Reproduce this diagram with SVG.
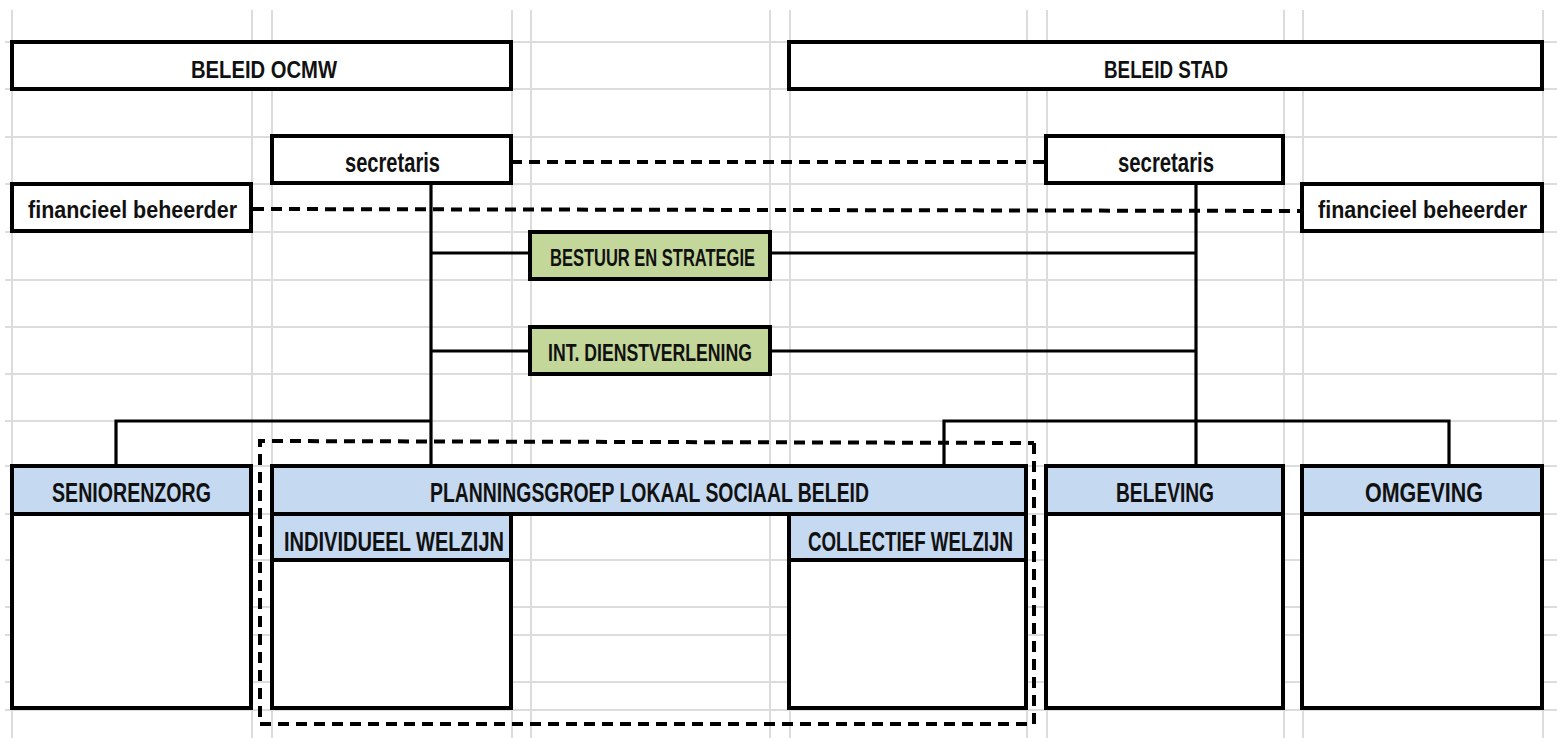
<svg xmlns="http://www.w3.org/2000/svg" width="1557" height="738" viewBox="0 0 1557 738">
<style>
.grid line{stroke:#dcdcdc;stroke-width:2}
.box{fill:#ffffff;stroke:#000;stroke-width:4}
.hdr{fill:#c5d9f1;stroke:#000;stroke-width:4}
.grn{fill:#c4d79b;stroke:#000;stroke-width:4}
text{font-family:"Liberation Sans Narrow","Liberation Sans",Arial,sans-serif;font-weight:bold;fill:#111;text-anchor:start}
.solid{fill:none;stroke:#000;stroke-width:3.2}
.dash{fill:none;stroke:#000;stroke-width:4;stroke-dasharray:11 7}
</style>
<rect x="0" y="0" width="1557" height="738" fill="#ffffff"/>
<g class="grid">
<line x1="12" y1="10" x2="12" y2="738"/>
<line x1="252" y1="10" x2="252" y2="738"/>
<line x1="272" y1="10" x2="272" y2="738"/>
<line x1="512" y1="10" x2="512" y2="738"/>
<line x1="531" y1="10" x2="531" y2="738"/>
<line x1="770" y1="10" x2="770" y2="738"/>
<line x1="790" y1="10" x2="790" y2="738"/>
<line x1="1027" y1="10" x2="1027" y2="738"/>
<line x1="1047" y1="10" x2="1047" y2="738"/>
<line x1="1284" y1="10" x2="1284" y2="738"/>
<line x1="1303" y1="10" x2="1303" y2="738"/>
<line x1="1543" y1="10" x2="1543" y2="738"/>
<line x1="5" y1="42" x2="1557" y2="42"/>
<line x1="5" y1="89" x2="1557" y2="89"/>
<line x1="5" y1="137" x2="1557" y2="137"/>
<line x1="5" y1="184" x2="1557" y2="184"/>
<line x1="5" y1="232" x2="1557" y2="232"/>
<line x1="5" y1="280" x2="1557" y2="280"/>
<line x1="5" y1="327" x2="1557" y2="327"/>
<line x1="5" y1="374" x2="1557" y2="374"/>
<line x1="5" y1="421" x2="1557" y2="421"/>
<line x1="5" y1="466" x2="1557" y2="466"/>
<line x1="5" y1="514" x2="1557" y2="514"/>
<line x1="5" y1="560" x2="1557" y2="560"/>
<line x1="5" y1="607" x2="1557" y2="607"/>
<line x1="5" y1="635" x2="1557" y2="635"/>
<line x1="5" y1="682" x2="1557" y2="682"/>
<line x1="5" y1="710" x2="1557" y2="710"/>
</g>
<g id="connectors">
<path class="dash" d="M511 162 L1046 162"/>
<path class="dash" d="M253 209 L1302 211"/>
<path class="solid" d="M431 184 L431 466"/>
<path class="solid" d="M1196 184 L1196 466"/>
<path class="solid" d="M431 253 L530 253 M770 253 L1196 253"/>
<path class="solid" d="M431 351 L530 351 M770 351 L1196 351"/>
<path class="solid" d="M116 466 L116 421 L431 421"/>
<path class="solid" d="M944 466 L944 421 L1449 421 L1449 466"/>
<path class="dash" d="M1034 443 L1034 724 L260 724 L260 441 L1034 443"/>
</g>
<g id="beleid-ocmw"><rect class="box" x="12" y="42" width="499" height="47"/><text x="191" y="78" font-size="24" textLength="146" lengthAdjust="spacingAndGlyphs">BELEID OCMW</text></g>
<g id="beleid-stad"><rect class="box" x="789" y="42" width="753" height="47"/><text x="1104" y="78" font-size="24" textLength="124" lengthAdjust="spacingAndGlyphs">BELEID STAD</text></g>
<g id="secretaris-ocmw"><rect class="box" x="272" y="136" width="239" height="47"/><text x="345" y="172" font-size="27" textLength="95" lengthAdjust="spacingAndGlyphs">secretaris</text></g>
<g id="secretaris-stad"><rect class="box" x="1046" y="136" width="237" height="47"/><text x="1118" y="172" font-size="27" textLength="96" lengthAdjust="spacingAndGlyphs">secretaris</text></g>
<g id="fin-ocmw"><rect class="box" x="12" y="184" width="239" height="47"/><text x="28" y="218" font-size="24" textLength="209" lengthAdjust="spacingAndGlyphs">financieel beheerder</text></g>
<g id="fin-stad"><rect class="box" x="1302" y="184" width="240" height="47"/><text x="1318" y="218" font-size="24" textLength="209" lengthAdjust="spacingAndGlyphs">financieel beheerder</text></g>
<g id="bestuur"><rect class="grn" x="530" y="232" width="240" height="47"/><text x="550" y="266" font-size="24" textLength="205" lengthAdjust="spacingAndGlyphs">BESTUUR EN STRATEGIE</text></g>
<g id="dienstverlening"><rect class="grn" x="530" y="327" width="240" height="47"/><text x="548" y="361" font-size="24" textLength="204" lengthAdjust="spacingAndGlyphs">INT. DIENSTVERLENING</text></g>
<g id="seniorenzorg"><rect class="box" x="12" y="466" width="239" height="242"/><rect class="hdr" x="12" y="466" width="239" height="48"/><text x="52" y="502" font-size="27" textLength="159" lengthAdjust="spacingAndGlyphs">SENIORENZORG</text></g>
<g id="planningsgroep"><rect class="hdr" x="272" y="466" width="754" height="48"/><text x="430" y="502" font-size="27" textLength="439" lengthAdjust="spacingAndGlyphs">PLANNINGSGROEP LOKAAL SOCIAAL BELEID</text></g>
<g id="individueel"><rect class="box" x="272" y="514" width="239" height="194"/><rect class="hdr" x="272" y="514" width="239" height="46"/><text x="284" y="551" font-size="28" textLength="220" lengthAdjust="spacingAndGlyphs">INDIVIDUEEL WELZIJN</text></g>
<g id="collectief"><rect class="box" x="789" y="514" width="237" height="194"/><rect class="hdr" x="789" y="514" width="237" height="46"/><text x="808" y="551" font-size="28" textLength="205" lengthAdjust="spacingAndGlyphs">COLLECTIEF WELZIJN</text></g>
<g id="beleving"><rect class="box" x="1046" y="466" width="237" height="242"/><rect class="hdr" x="1046" y="466" width="237" height="48"/><text x="1116" y="502" font-size="27" textLength="98" lengthAdjust="spacingAndGlyphs">BELEVING</text></g>
<g id="omgeving"><rect class="box" x="1302" y="466" width="240" height="242"/><rect class="hdr" x="1302" y="466" width="240" height="48"/><text x="1365" y="502" font-size="27" textLength="118" lengthAdjust="spacingAndGlyphs">OMGEVING</text></g>
</svg>
